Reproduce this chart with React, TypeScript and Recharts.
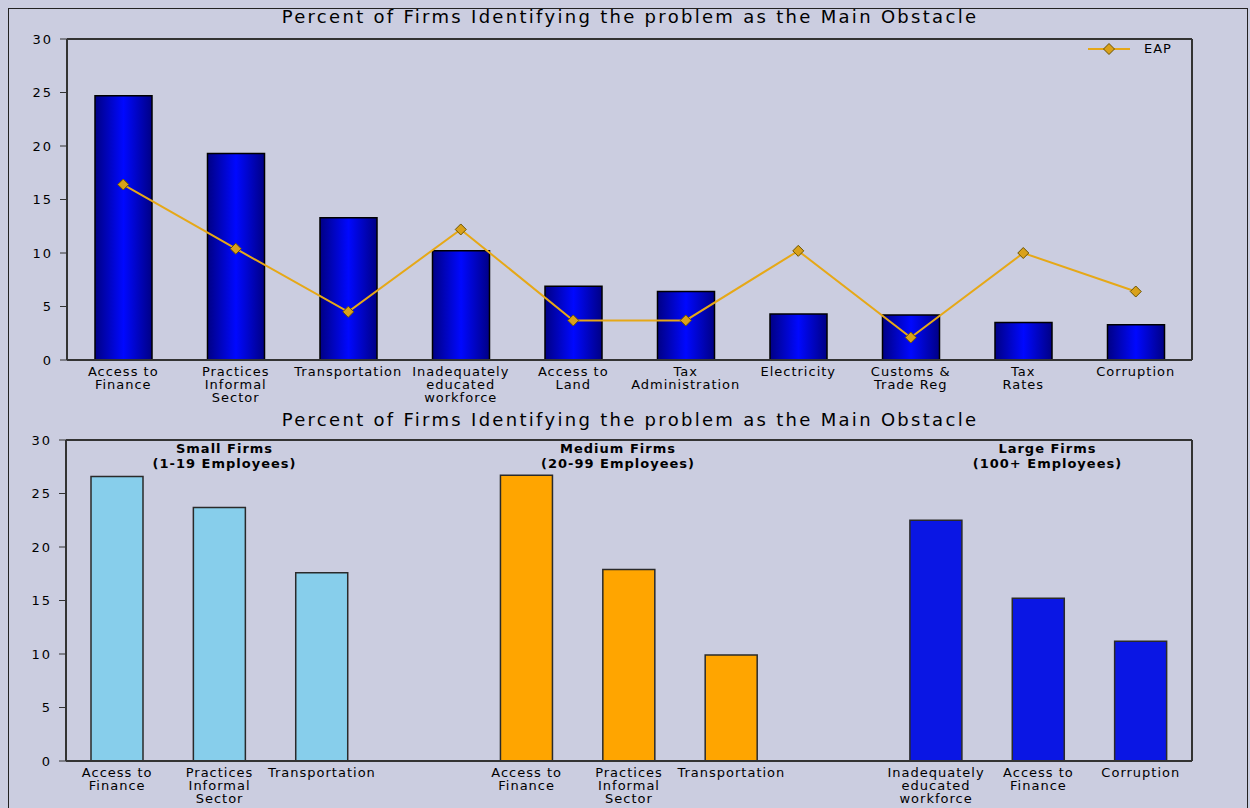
import { BarChart, ComposedChart, Bar, Line, XAxis, YAxis, Legend, Cell } from 'recharts';

// Top chart: all firms vs EAP average
const topCategories = [
  'Access to\nFinance',
  'Practices\nInformal\nSector',
  'Transportation',
  'Inadequately\neducated\nworkforce',
  'Access to\nLand',
  'Tax\nAdministration',
  'Electricity',
  'Customs &\nTrade Reg',
  'Tax\nRates',
  'Corruption',
];
const countryValues = [24.7, 19.3, 13.3, 10.2, 6.9, 6.4, 4.3, 4.2, 3.5, 3.3];
const eapValues = [16.4, 10.4, 4.5, 12.2, 3.7, 3.7, 10.2, 2.1, 10.0, 6.4];

// Bottom chart: by firm size (blank slots separate the groups)
const bottomCategories = [
  'Access to\nFinance', 'Practices\nInformal\nSector', 'Transportation', '',
  'Access to\nFinance', 'Practices\nInformal\nSector', 'Transportation', '',
  'Inadequately\neducated\nworkforce', 'Access to\nFinance', 'Corruption',
];
const bottomGroups = ['small', 'small', 'small', '', 'medium', 'medium', 'medium', '', 'large', 'large', 'large'];
const bottomValues = [26.6, 23.7, 17.6, null, 26.7, 17.9, 9.9, null, 22.5, 15.2, 11.2];
const groupTitles = [
  '', 'Small Firms\n(1-19 Employees)', '', '',
  '', 'Medium Firms\n(20-99 Employees)', '', '',
  '', 'Large Firms\n(100+ Employees)', '',
];
// small horizontal nudges so the group titles sit like the original
const groupTitleDx = [0, 5, 0, 0, 0, -11, 0, 0, 0, 9, 0];

const yTicks = [0, 5, 10, 15, 20, 25, 30];

const BG = '#cbcde0';
const AXIS = '#333';
const FONT = '"DejaVu Sans", Arial, sans-serif';
const GROUP_COLORS: Record<string, string> = { small: '#87ceeb', medium: '#ffa500', large: '#0a16e4' };

const topData = topCategories.map((name, i) => ({ name, country: countryValues[i], EAP: eapValues[i] }));
const bottomData = bottomCategories.map((label, i) => ({ key: String(i), label, group: bottomGroups[i], value: bottomValues[i] }));

const MultiLineTick = ({ x, y, payload, labels }: any) => {
  const text: string = labels ? labels[payload.index] ?? '' : String(payload.value);
  const lines = text.split('\n');
  return (
    <text x={x} y={y} textAnchor="middle" fontSize={13} fontFamily={FONT} fill="#000" letterSpacing={1}>
      {lines.map((l, i) => (
        <tspan key={i} x={x} dy={i === 0 ? 14 : 13}>{l}</tspan>
      ))}
    </text>
  );
};

const GroupTitleTick = ({ x, y, payload }: any) => {
  const text = groupTitles[payload.index];
  if (!text) return null;
  const cx = x + (groupTitleDx[payload.index] ?? 0);
  return (
    <text x={cx} y={y} textAnchor="middle" fontSize={13} fontWeight="bold" fontFamily={FONT} fill="#000" letterSpacing={1}>
      {text.split('\n').map((l, i) => (
        <tspan key={i} x={cx} dy={15}>{l}</tspan>
      ))}
    </text>
  );
};

const Diamond = ({ cx, cy }: any) => {
  if (cx == null || cy == null) return null;
  const r = 5.5;
  return <polygon points={`${cx},${cy - r} ${cx + r},${cy} ${cx},${cy + r} ${cx - r},${cy}`} fill="#d9a11a" stroke="#6b5300" strokeWidth={1} />;
};

const EapLegend = ({ payload }: any) => (
  <div style={{ display: 'flex', alignItems: 'center', fontFamily: FONT, fontSize: 13, letterSpacing: 1 }}>
    <svg width={46} height={14}>
      <line x1={2} y1={7} x2={44} y2={7} stroke="#e6a817" strokeWidth={2} />
      <Diamond cx={23} cy={7} />
    </svg>
    <span style={{ marginLeft: 12 }}>{payload?.[0]?.value ?? 'EAP'}</span>
  </div>
);

const yTick = { fontSize: 13, fill: '#000', fontFamily: FONT, letterSpacing: 2 };

const titleStyle: React.CSSProperties = {
  position: 'absolute', left: 0, width: 1260, textAlign: 'center',
  fontFamily: FONT, fontSize: 18, letterSpacing: 2.3, color: '#000',
};

export default function App() {
  return (
    <div style={{ position: 'fixed', left: 0, top: 0, width: 1250, height: 808, background: BG, overflow: 'hidden' }}>
      <div style={{ position: 'absolute', left: 8, top: 8, width: 1238, height: 820, border: '1px solid #222' }} />
      <div style={{ ...titleStyle, top: 6 }}>Percent of Firms Identifying the problem as the Main Obstacle</div>
      <div style={{ ...titleStyle, top: 409 }}>Percent of Firms Identifying the problem as the Main Obstacle</div>

      <div style={{ position: 'absolute', left: 0, top: 0 }}>
        <ComposedChart width={1250} height={410} data={topData} margin={{ top: 38, right: 57, left: 0, bottom: 0 }} barSize={57}>
          <defs>
            <linearGradient id="blueBar" x1="0" y1="0" x2="1" y2="0">
              <stop offset="0%" stopColor="#000085" />
              <stop offset="50%" stopColor="#0008ff" />
              <stop offset="100%" stopColor="#000085" />
            </linearGradient>
          </defs>
          <XAxis dataKey="name" height={50} interval={0} tickLine={false} tickSize={0} axisLine={{ stroke: AXIS, strokeWidth: 2 }} tick={<MultiLineTick />} />
          <XAxis xAxisId="top" dataKey="name" orientation="top" height={1} tick={false} tickLine={false} axisLine={{ stroke: AXIS, strokeWidth: 2 }} />
          <YAxis domain={[0, 30]} ticks={yTicks} width={67} tickSize={7} tickMargin={7} interval={0}
            axisLine={{ stroke: AXIS, strokeWidth: 2 }} tickLine={{ stroke: AXIS }} tick={yTick} />
          <YAxis yAxisId="right" orientation="right" domain={[0, 30]} width={1} tick={false} tickLine={false} axisLine={{ stroke: AXIS, strokeWidth: 2 }} />
          <Legend layout="horizontal" verticalAlign="middle" align="center" width={110} wrapperStyle={{ top: 41, left: 1086 }} content={<EapLegend />} />
          <Bar dataKey="country" fill="url(#blueBar)" stroke="#000" strokeWidth={1.5} isAnimationActive={false} legendType="none" />
          <Line dataKey="EAP" name="EAP" stroke="#e6a817" strokeWidth={2} dot={<Diamond />} activeDot={false} isAnimationActive={false} />
        </ComposedChart>
      </div>

      <div style={{ position: 'absolute', left: 0, top: 410 }}>
        <BarChart width={1250} height={400} data={bottomData} margin={{ top: 29, right: 57, left: 0, bottom: 0 }} barSize={52}>
          <XAxis dataKey="key" height={49} interval={0} tickLine={false} tickSize={0} axisLine={{ stroke: AXIS, strokeWidth: 2 }} tick={<MultiLineTick labels={bottomCategories} />} />
          <XAxis xAxisId="top" dataKey="key" orientation="top" height={1} interval={0} tickLine={false} tickSize={0} axisLine={{ stroke: AXIS, strokeWidth: 2 }} tick={<GroupTitleTick />} />
          <YAxis domain={[0, 30]} ticks={yTicks} width={66} tickSize={7} tickMargin={7} interval={0}
            axisLine={{ stroke: AXIS, strokeWidth: 2 }} tickLine={{ stroke: AXIS }} tick={yTick} />
          <YAxis yAxisId="right" orientation="right" domain={[0, 30]} width={1} tick={false} tickLine={false} axisLine={{ stroke: AXIS, strokeWidth: 2 }} />
          <Bar dataKey="value" stroke="#2a2a2a" strokeWidth={1.5} isAnimationActive={false}>
            {bottomData.map((d, i) => (
              <Cell key={i} fill={GROUP_COLORS[d.group] ?? 'none'} />
            ))}
          </Bar>
        </BarChart>
      </div>
    </div>
  );
}
